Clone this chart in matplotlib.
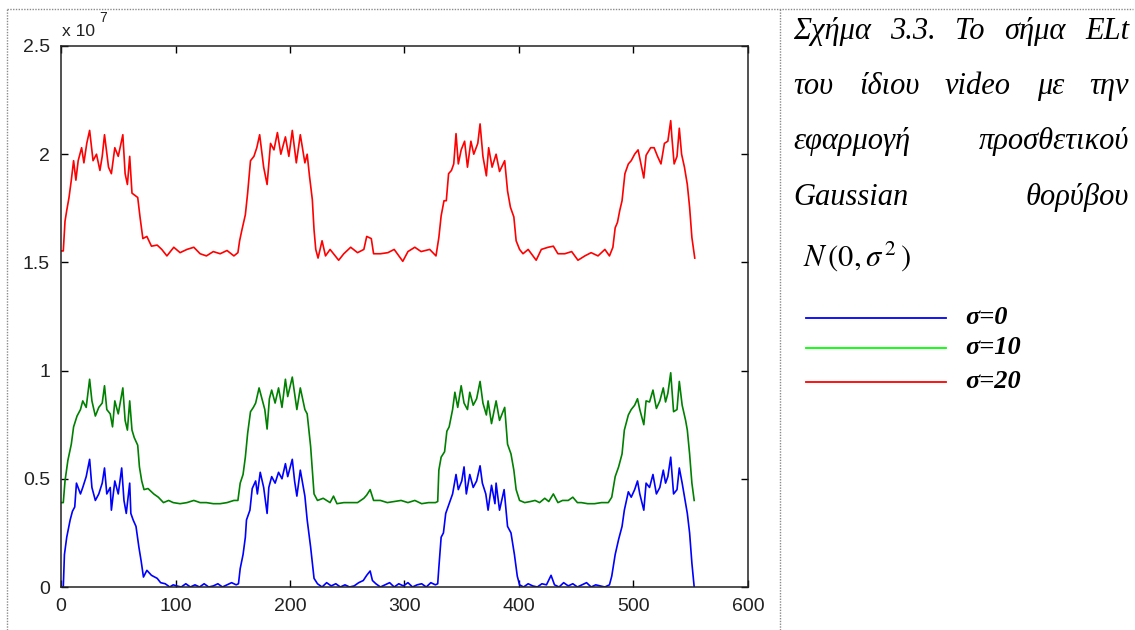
import numpy as np
import matplotlib
matplotlib.use('Agg')
import matplotlib.pyplot as plt
from matplotlib.lines import Line2D

# values in units of 1e7
blue_x = [0, 2, 3, 5, 8, 10, 12, 13.5, 17, 19, 22, 25, 27, 30, 33, 36, 38, 40, 43, 44, 47, 50, 53, 55, 57, 60, 61, 63,
          65.5, 68, 70, 72, 75, 79, 84, 87, 91, 95, 98, 101, 105, 109, 113, 117, 121, 125, 129, 133, 137, 141, 145,
          149, 153, 155, 156.5, 159, 161, 162, 165, 167, 170, 171.5, 174, 177, 180, 181.5, 184, 187, 190, 193, 196,
          198, 202, 204, 206, 209, 213, 215, 218, 221, 224, 228, 232, 236, 240, 244, 248, 252, 256, 260, 264, 267,
          270, 272, 275, 279, 283, 287, 291, 295, 299, 303, 307, 311, 315, 319, 323, 327, 329, 330, 332, 334, 336,
          339, 342, 345, 347, 350, 352, 354, 357, 360, 363, 366, 368, 371, 373, 376, 379, 380, 383, 387, 390, 393,
          396, 398.5, 400.5, 404, 408, 412, 416, 420, 424, 428, 431, 435, 439, 443, 447, 451, 455, 459, 463, 467,
          471, 475, 479, 481, 484, 487, 490, 492, 495.5, 498, 501, 503.5, 505.5, 509, 511, 514, 517, 520, 523, 526,
          528, 530, 532.5, 535, 538, 540, 542.5, 545.5, 547, 549, 551, 553]
blue_y = [0, 0, 0.15, 0.23, 0.31, 0.35, 0.37, 0.48, 0.43, 0.46, 0.51, 0.59, 0.46, 0.40, 0.43, 0.48, 0.55, 0.43, 0.46,
          0.355, 0.49, 0.43, 0.55, 0.40, 0.34, 0.48, 0.34, 0.31, 0.28, 0.185, 0.12, 0.046, 0.077, 0.054, 0.04, 0.02,
          0.015, 0.0, 0.01, 0.005, 0.0, 0.015, 0.0, 0.01, 0.0, 0.015, 0.0, 0.005, 0.015, 0.0, 0.01, 0.02, 0.01, 0.015,
          0.085, 0.15, 0.23, 0.31, 0.355, 0.455, 0.49, 0.43, 0.53, 0.46, 0.34, 0.46, 0.51, 0.48, 0.53, 0.50, 0.57,
          0.51, 0.59, 0.49, 0.42, 0.54, 0.42, 0.31, 0.185, 0.04, 0.015, 0.0, 0.02, 0.005, 0.015, 0.0, 0.01, 0.0,
          0.005, 0.02, 0.03, 0.054, 0.074, 0.03, 0.015, 0.0, 0.01, 0.02, 0.0, 0.015, 0.005, 0.02, 0.0, 0.01, 0.015,
          0.0, 0.02, 0.01, 0.015, 0.09, 0.23, 0.25, 0.34, 0.385, 0.43, 0.52, 0.45, 0.49, 0.555, 0.43, 0.52, 0.46,
          0.49, 0.56, 0.48, 0.43, 0.355, 0.47, 0.385, 0.48, 0.355, 0.45, 0.28, 0.25, 0.15, 0.05, 0.01, 0.0, 0.015,
          0.005, 0.0, 0.015, 0.01, 0.054, 0.01, 0.0, 0.02, 0.005, 0.015, 0.0, 0.01, 0.02, 0.0, 0.01, 0.005, 0.0, 0.01,
          0.05, 0.15, 0.22, 0.28, 0.355, 0.44, 0.415, 0.45, 0.49, 0.43, 0.355, 0.48, 0.46, 0.52, 0.43, 0.46, 0.54,
          0.48, 0.51, 0.60, 0.43, 0.45, 0.55, 0.48, 0.385, 0.34, 0.25, 0.11, 0.0]

green_x = [0, 2, 3.5, 6, 9, 11, 14, 17, 19, 22, 25, 27, 30, 33, 36, 38, 40, 43, 45, 47, 50, 54, 56, 58, 60, 62, 64, 67,
           68.5, 70.5, 72.5, 76, 81, 85, 89.5, 94, 98, 104, 110, 116, 121.5, 127, 133, 139, 145, 151, 154.5, 156.5,
           159, 161, 163, 165.5, 168, 170, 173, 176, 178, 180, 182, 184, 187, 190, 193, 196, 198, 202, 204, 206, 209,
           213, 215, 218, 221, 224, 229, 235, 238, 241, 247, 253, 259, 264.5, 267, 270, 273, 279, 285, 291, 297, 303,
           309, 315, 321, 327, 329, 330, 332, 335, 337, 339, 342, 344, 346.5, 349.5, 352, 355, 357, 360, 363, 366,
           368.5, 371.5, 373, 376, 380, 383, 387.5, 390, 393, 395.5, 397.5, 400.5, 405, 410, 414, 418, 422.5, 426,
           430, 434, 438, 443, 447, 451, 454.5, 460, 466, 472, 478, 481, 484, 487, 490, 492, 495.5, 498, 501, 503.5,
           505.5, 509, 511, 514, 517, 520, 523, 526, 528, 530, 532.5, 535, 538, 540, 542.5, 545.5, 547, 549, 551, 553]
green_y = [0.39, 0.39, 0.49, 0.585, 0.66, 0.74, 0.79, 0.82, 0.86, 0.83, 0.96, 0.86, 0.79, 0.83, 0.85, 0.93, 0.82, 0.80,
           0.74, 0.86, 0.80, 0.92, 0.77, 0.725, 0.86, 0.725, 0.69, 0.655, 0.555, 0.49, 0.45, 0.455, 0.43, 0.415, 0.39,
           0.40, 0.39, 0.385, 0.39, 0.40, 0.39, 0.39, 0.385, 0.385, 0.39, 0.40, 0.40, 0.48, 0.52, 0.60, 0.71, 0.81,
           0.83, 0.85, 0.92, 0.86, 0.82, 0.73, 0.87, 0.91, 0.85, 0.92, 0.83, 0.96, 0.88, 0.97, 0.895, 0.82, 0.92, 0.82,
           0.80, 0.65, 0.43, 0.40, 0.41, 0.39, 0.42, 0.385, 0.39, 0.39, 0.39, 0.41, 0.425, 0.45, 0.40, 0.40, 0.39,
           0.395, 0.40, 0.39, 0.40, 0.385, 0.39, 0.39, 0.395, 0.54, 0.60, 0.625, 0.72, 0.74, 0.82, 0.90, 0.83, 0.93,
           0.85, 0.82, 0.90, 0.84, 0.87, 0.95, 0.85, 0.795, 0.86, 0.755, 0.86, 0.77, 0.83, 0.66, 0.615, 0.54, 0.45,
           0.40, 0.39, 0.395, 0.40, 0.39, 0.41, 0.395, 0.43, 0.39, 0.40, 0.40, 0.415, 0.39, 0.39, 0.385, 0.385, 0.39,
           0.39, 0.415, 0.51, 0.555, 0.615, 0.725, 0.795, 0.82, 0.84, 0.87, 0.82, 0.75, 0.86, 0.855, 0.91, 0.825,
           0.86, 0.92, 0.855, 0.895, 0.99, 0.81, 0.82, 0.95, 0.84, 0.77, 0.725, 0.615, 0.48, 0.40]

red_x = [0, 2, 3.5, 5, 7, 9, 11, 13, 15, 18, 20, 22.5, 25, 28, 31, 34, 36, 38, 41.5, 44, 47, 50, 54, 56, 58, 60, 62,
         64.5, 67, 69, 71.5, 75, 79, 84, 88, 92.5, 98.5, 104, 110, 116, 121.5, 127, 133, 139, 145, 151, 154.5, 156,
         158, 161, 163, 165.5, 168.5, 171, 173.5, 177, 180, 183, 186, 189, 192, 196, 199, 202, 205.5, 209, 213, 215,
         217, 219.5, 221, 222.5, 224.5, 228, 231, 235, 238, 242.5, 247, 253, 259, 264.5, 267, 271, 273, 279, 285.5,
         291, 298.5, 303, 309, 314.5, 322, 327.5, 330, 332, 334.5, 336.5, 338.5, 341, 343, 345, 347, 349.5, 352.5,
         355, 358, 360.5, 364, 366, 368.5, 371.5, 373.5, 376.5, 380, 383, 387.5, 390, 392.5, 395.5, 397.5, 400.5,
         403.5, 408, 415, 419.5, 425.5, 430, 434, 440, 446, 451.5, 457.5, 463, 469, 475, 479, 482, 484, 486, 488,
         490, 492.5, 495.5, 498, 501, 504, 506.5, 509, 511, 515, 518, 521, 524, 527, 530, 532.5, 533.5, 535.5, 538,
         540, 542, 544.5, 547, 549, 551, 553.5]
red_y = [1.553, 1.553, 1.69, 1.74, 1.80, 1.88, 1.97, 1.88, 1.97, 2.03, 1.96, 2.05, 2.11, 1.97, 2.0, 1.925, 1.99, 2.09,
         1.94, 1.91, 2.03, 1.99, 2.09, 1.91, 1.86, 1.99, 1.82, 1.81, 1.80, 1.71, 1.61, 1.62, 1.575, 1.58, 1.56, 1.53,
         1.57, 1.545, 1.56, 1.57, 1.54, 1.53, 1.55, 1.54, 1.555, 1.53, 1.545, 1.60, 1.65, 1.72, 1.82, 1.97, 1.99,
         2.03, 2.09, 1.94, 1.86, 2.05, 2.02, 2.10, 2.0, 2.08, 1.99, 2.11, 1.96, 2.09, 1.96, 2.0, 1.90, 1.79, 1.65,
         1.56, 1.52, 1.60, 1.53, 1.56, 1.54, 1.51, 1.54, 1.57, 1.545, 1.56, 1.62, 1.61, 1.54, 1.54, 1.545, 1.56,
         1.505, 1.55, 1.57, 1.55, 1.56, 1.53, 1.615, 1.715, 1.785, 1.785, 1.91, 1.925, 1.955, 2.095, 1.955, 2.02,
         2.06, 1.94, 2.06, 2.0, 2.05, 2.14, 1.99, 1.90, 2.03, 1.94, 2.0, 1.92, 1.97, 1.83, 1.755, 1.71, 1.60, 1.56,
         1.54, 1.56, 1.51, 1.56, 1.57, 1.575, 1.54, 1.54, 1.55, 1.51, 1.53, 1.545, 1.53, 1.56, 1.53, 1.57, 1.66,
         1.685, 1.74, 1.785, 1.91, 1.955, 1.97, 2.0, 2.02, 1.955, 1.89, 1.995, 2.03, 2.03, 1.99, 1.955, 2.05, 2.06,
         2.155, 2.08, 1.955, 1.99, 2.12, 2.0, 1.94, 1.86, 1.755, 1.615, 1.52]

xticks = [0, 100, 200, 300, 400, 500, 600]
yticks = [0, 0.5, 1, 1.5, 2, 2.5]
ytick_labels = ['0', '0.5', '1', '1.5', '2', '2.5']

caption_lines = [['Σχήμα', '3.3.', 'Το', 'σήμα', 'ELt'],
                 ['του', 'ίδιου', 'video', 'με', 'την'],
                 ['εφαρμογή', 'προσθετικού'],
                 ['Gaussian', 'θορύβου']]
legend_labels = ['σ=0', 'σ=10', 'σ=20']
legend_colors = ['#0000ff', '#00ff00', '#ff0000']

W, H = 1135, 630
fig = plt.figure(figsize=(W / 100, H / 100), dpi=100)
plt.rcParams['mathtext.fontset'] = 'stix'

ax = fig.add_axes([61 / W, 1 - 587 / H, (748 - 61) / W, (587 - 46) / H])
ax.plot(blue_x, blue_y, color='#0000ff', lw=1.2)
ax.plot(green_x, green_y, color='#008000', lw=1.2)
ax.plot(red_x, red_y, color='#ff0000', lw=1.2)
ax.set_xlim(0, 600)
ax.set_ylim(0, 2.5)
ax.set_xticks(xticks)
ax.set_yticks(yticks)
ax.set_yticklabels(ytick_labels)
ax.tick_params(direction='in', length=5, width=1, top=True, right=True,
               labelsize=14, labelcolor='#222222', pad=8)
for lab in ax.get_xticklabels() + ax.get_yticklabels():
    lab.set_family('Liberation Sans')
for sp in ax.spines.values():
    sp.set_linewidth(1.1)
    sp.set_color('#222222')

fig.text(62 / W, 1 - 36 / H, 'x 10', fontsize=12.5, family='Liberation Sans', color='#222222')
fig.text(99 / W, 1 - 22 / H, '7', fontsize=10, family='Liberation Sans', color='#222222')

# dotted frame
dot = dict(color='#8a8a8a', lw=1, ls=(0, (1, 1)))
fig.add_artist(Line2D([7 / W, 7 / W], [0, 1 - 9 / H], **dot))
fig.add_artist(Line2D([7 / W, 1133 / W], [1 - 9 / H, 1 - 9 / H], **dot))
fig.add_artist(Line2D([780 / W, 780 / W], [0, 1 - 9 / H], **dot))

# justified caption
x0, x1 = 793, 1129
line_base = [39, 94, 149, 205]
renderer = fig.canvas.get_renderer()
for words, yy in zip(caption_lines, line_base):
    texts = [fig.text(0, 1 - yy / H, w, fontsize=22, family='Liberation Serif', style='italic',
                      va='baseline', color='black') for w in words]
    widths = [t.get_window_extent(renderer).width for t in texts]
    gap = (x1 - x0 - sum(widths)) / (len(words) - 1)
    pos = x0
    for t, wd in zip(texts, widths):
        t.set_x(pos / W)
        pos += wd + gap

fig.text(803 / W, 1 - 266 / H, r'$N\,(0,\sigma^{\,2}\,)$', fontsize=22, va='baseline', color='black')

leg_y = [318, 348, 382]
for lab, col, yy in zip(legend_labels, legend_colors, leg_y):
    fig.add_artist(Line2D([806 / W, 946 / W], [1 - yy / H, 1 - yy / H], color=col, lw=1.3))
    fig.text(965 / W, 1 - yy / H, lab, fontsize=19, family='Liberation Serif', style='italic',
             weight='bold', va='center', color='black')

fig.savefig('out.png', dpi=100)
